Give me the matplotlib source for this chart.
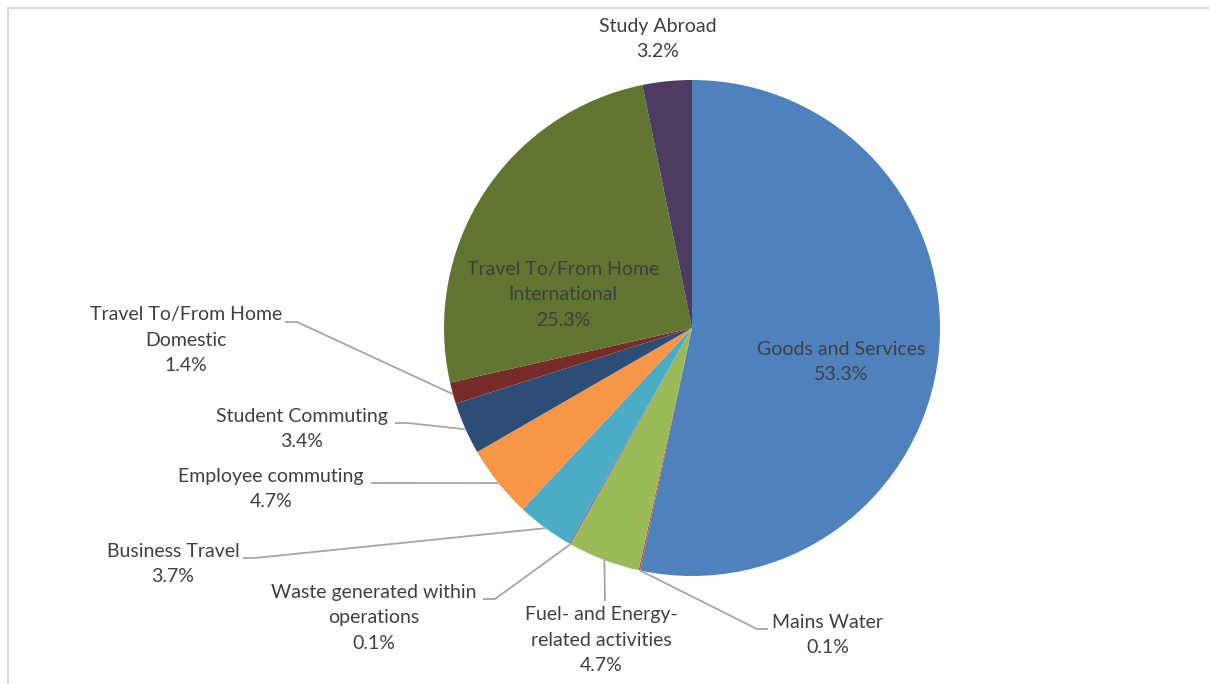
import numpy as np
import matplotlib
matplotlib.use('Agg')
import matplotlib.pyplot as plt

# emission sources, clockwise from 12 o'clock
CATEGORIES = ['Goods and Services', 'Mains Water',
              'Fuel- and Energy-\nrelated activities',
              'Waste generated within\noperations', 'Business Travel',
              'Employee commuting', 'Student Commuting',
              'Travel To/From Home\nDomestic',
              'Travel To/From Home\nInternational', 'Study Abroad']
SHARES = [53.3, 0.1, 4.7, 0.1, 3.7, 4.7, 3.4, 1.4, 25.3, 3.2]
COLORS = ['#4F81BD', '#C0504D', '#9BBB59', '#8064A2', '#4BACC6',
          '#F79646', '#2C4D75', '#772C2A', '#5F7530', '#4D3B62']

# label centres and leader elbows, in pixel coords (y down)
LABEL_XY = [(841, 362), (828, 635), (601, 640), (374, 618), (173, 564),
            (271, 489), (302, 429), (186, 340), (563, 295), (658, 39)]
LEADERS = {1: [(768, 629), (757, 629)],
           2: [(605, 601)],
           3: [(483, 599), (495, 599)],
           4: [(243, 558), (255, 558)],
           5: [(371, 483), (383, 483)],
           6: [(395, 423), (408, 423)],
           7: [(285, 322), (297, 322)]}

W, H = 1209, 684
CX, CY, R = 692, 328, 248
TXT = '#404040'

plt.rcParams['font.family'] = ['Lato', 'DejaVu Sans']

fig = plt.figure(figsize=(W / 100, H / 100), dpi=100)
ax = fig.add_axes([0, 0, 1, 1])

ax.pie(SHARES, colors=COLORS, startangle=90, counterclock=False,
       center=(CX, H - CY), radius=R, wedgeprops=dict(linewidth=0),
       frame=True)
ax.set_xlim(0, W); ax.set_ylim(0, H)
ax.axis('off')

# chart-area frame: only the top and left edges fall inside the image
ax.plot([7.5, 7.5, W + 5], [-5, H - 8, H - 8], color='#D9D9D9', lw=1.5,
        clip_on=False)

# leader lines run from the elbow to the middle of the wedge's arc
cum = np.cumsum([0] + SHARES[:-1])
for i, pts in LEADERS.items():
  mid = np.deg2rad((cum[i] + SHARES[i] / 2) / 100 * 360)
  ex, ey = CX + R * np.sin(mid), CY - R * np.cos(mid)
  xs = [p[0] for p in pts] + [ex]
  ys = [H - p[1] for p in pts] + [H - ey]
  ax.plot(xs, ys, color='#A6A6A6', lw=1.3, solid_capstyle='butt')

for (x, y), name, v in zip(LABEL_XY, CATEGORIES, SHARES):
  ax.text(x, H - y, f'{name}\n{v:.1f}%', ha='center', va='center',
          color=TXT, fontsize=14, linespacing=1.6)

fig.savefig('out.png', dpi=100)
